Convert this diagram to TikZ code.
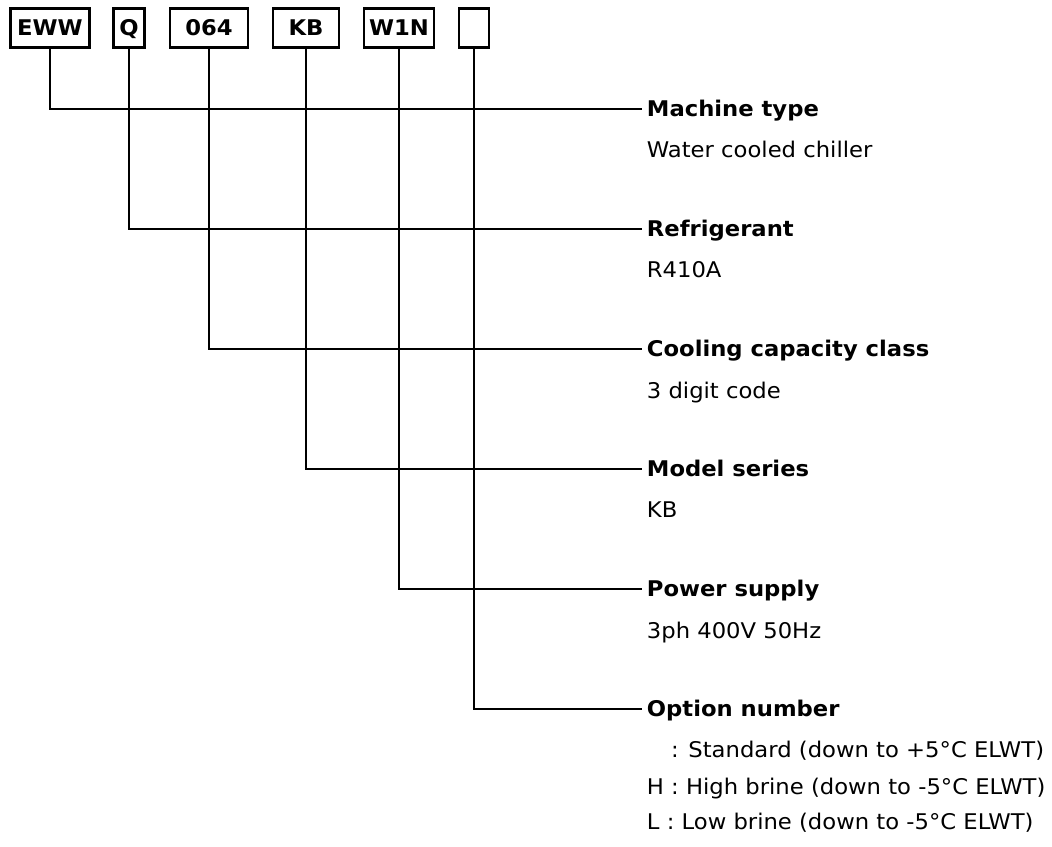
\documentclass[tikz,border=0pt]{standalone}
\usepackage{fontspec}
\setmainfont{DejaVu Sans}[FakeStretch=1.05]

\begin{document}
\begin{tikzpicture}[x=0.02cm,y=-0.02cm,line width=1.6pt,
        code/.style={draw,minimum height=0.79cm,inner sep=0pt,text height=8.9pt,text depth=0pt,font=\bfseries},
        head/.style={anchor=west,inner xsep=2pt,inner ysep=0pt,text height=8.9pt,text depth=0pt,font=\bfseries},
        info/.style={anchor=west,inner xsep=2pt,inner ysep=0pt,text height=8.9pt,text depth=0pt}]
        \fontsize{12.3}{14}\selectfont
        \useasboundingbox(0,0)rectangle(1052,846);

        \node[code,minimum width=1.58cm](eww)at(50,28){EWW};
        \node[code,minimum width=0.62cm](refr)at(129,28){Q};
        \node[code,minimum width=1.56cm](cap)at(209,28){064};
        \node[code,minimum width=1.32cm](ser)at(306,28){KB};
        \node[code,minimum width=1.40cm](pow)at(399,28){W1N};
        \node[code,minimum width=0.60cm](opt)at(474,28){};

        \node[head](typehead)at(642,109){Machine type};
        \node[info](typeinfo)at(642,150){Water cooled chiller};
        \node[head](refrhead)at(642,229){Refrigerant};
        \node[info](refrinfo)at(642,270){R410A};
        \node[head](caphead)at(642,349){Cooling capacity class};
        \node[info](capinfo)at(642,391){3 digit code};
        \node[head](serhead)at(642,469){Model series};
        \node[info](serinfo)at(642,510){KB};
        \node[head](powhead)at(642,589){Power supply};
        \node[info](powinfo)at(642,631){3ph 400V 50Hz};
        \node[head](opthead)at(642,709){Option number};
        \node[info](optstd)at(642,750){\hphantom{H} : Standard (down to +5°C ELWT)};
        \node[info](opthigh)at(642,787){H : High brine (down to -5°C ELWT)};
        \node[info](optlow)at(642,822){L : Low brine (down to -5°C ELWT)};

        \draw(eww.south)|-(typehead.west);
        \draw(refr.south)|-(refrhead.west);
        \draw(cap.south)|-(caphead.west);
        \draw(ser.south)|-(serhead.west);
        \draw(pow.south)|-(powhead.west);
        \draw(opt.south)|-(opthead.west);
    \end{tikzpicture}
\end{document}
